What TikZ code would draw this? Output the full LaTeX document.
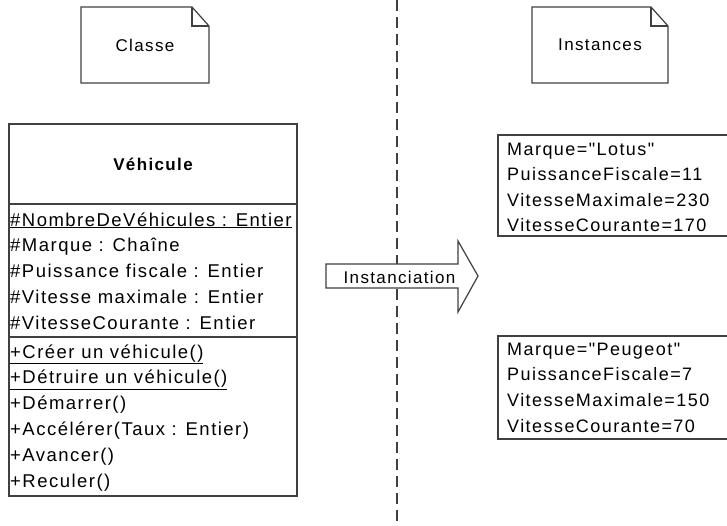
\documentclass[tikz,border=0pt]{standalone}
\usepackage{fontspec}
\setmainfont{Liberation Sans}[LetterSpace=8]
\newfontfamily\brut{Liberation Sans}[LetterSpace=8]
\usetikzlibrary{positioning}

\begin{document}
\begin{tikzpicture}[x=1pt,y=-1pt]
            \tikzset{trait/.style = {draw=black!75, line width=1.2pt}}
            \tikzset{boite/.style = {trait, fill=white, inner sep=0pt, outer sep=0pt, anchor=north west}}
            \tikzset{texte/.style = {inner sep=0pt, anchor=base west, font=\fontsize{18.5}{22}\selectfont}}
            \tikzset{titre/.style = {inner sep=0pt, outer sep=0pt, font=\fontsize{17}{20}\selectfont}}
            \tikzset{tirets/.style = {draw=black!75, line width=1.3pt, dash pattern=on 11pt off 6pt}}

            \clip (0,0) rectangle (727,525);

            % separation
            \coordinate (s1) at (397,0);
            \coordinate (s2) at (397,525);
            \draw[tirets] (s1) -- (s2);

            % notes
            \node[titre, minimum width=128pt, minimum height=76pt, anchor=north west] (classe) at (81,7) {Classe};
            \draw[trait] (classe.north west) -- ([xshift=-17pt]classe.north east)
                -- ([yshift=-19pt]classe.north east) -- (classe.south east)
                -- (classe.south west) -- cycle;
            \draw[trait] ([xshift=-17pt]classe.north east) |- ([yshift=-19pt]classe.north east);

            \node[titre, minimum width=136pt, minimum height=76pt, anchor=north west] (instances) at (532,7) {Instances};
            \draw[trait] (instances.north west) -- ([xshift=-17pt]instances.north east)
                -- ([yshift=-19pt]instances.north east) -- (instances.south east)
                -- (instances.south west) -- cycle;
            \draw[trait] ([xshift=-17pt]instances.north east) |- ([yshift=-19pt]instances.north east);

            % classe
            \node[boite, minimum width=288pt, minimum height=80pt, font=\fontsize{17}{20}\selectfont\bfseries] (nom) at (9,124) {Véhicule};
            \node[boite, minimum width=288pt, minimum height=133pt] (attributs) at (nom.south west) {};
            \node[boite, minimum width=288pt, minimum height=159pt] (methodes) at (attributs.south west) {};

            \foreach \t [count=\i] in {{\underline{\#NombreDeVéhicules : Entier}},
                \#Marque : Chaîne, \#Puissance fiscale : Entier,
                \#Vitesse maximale : Entier, \#VitesseCourante : Entier}
                \node[texte] (a\i) at (10,{200.2+25.8*\i}) {\t};

            \foreach \t [count=\i] in {{\underline{+Créer un véhicule()}},
                {\underline{+Détruire un véhicule()}}, +Démarrer(),
                +Accélérer(Taux : Entier), +Avancer(), +Reculer()}
                \node[texte] (m\i) at (10,{332.2+25.8*\i}) {\t};

            % instanciation
            \draw[trait, fill=white] (326,264) -- (458,264) -- (458,241) -- (478,276)
                -- (458,312) -- (458,288) -- (326,288) -- cycle;
            \node[titre] (fleche) at (399.5,277) {Instanciation};

            % instances
            \node[boite, minimum width=250pt, minimum height=101pt] (lotus) at (498,135) {};
            \node[boite, minimum width=250pt, minimum height=103pt] (peugeot) at (498,336) {};

            \foreach \t [count=\i] in {Marque="Lotus", PuissanceFiscale=11,
                VitesseMaximale=230, VitesseCourante=170}
                \node[texte, font=\fontsize{18}{22}\brut] (l\i) at (507,{129.5+25.5*\i}) {\t};

            \foreach \t [count=\i] in {Marque="Peugeot", PuissanceFiscale=7,
                VitesseMaximale=150, VitesseCourante=70}
                \node[texte, font=\fontsize{18}{22}\brut] (p\i) at (507,{329.5+25.7*\i}) {\t};

\end{tikzpicture}
\end{document}
